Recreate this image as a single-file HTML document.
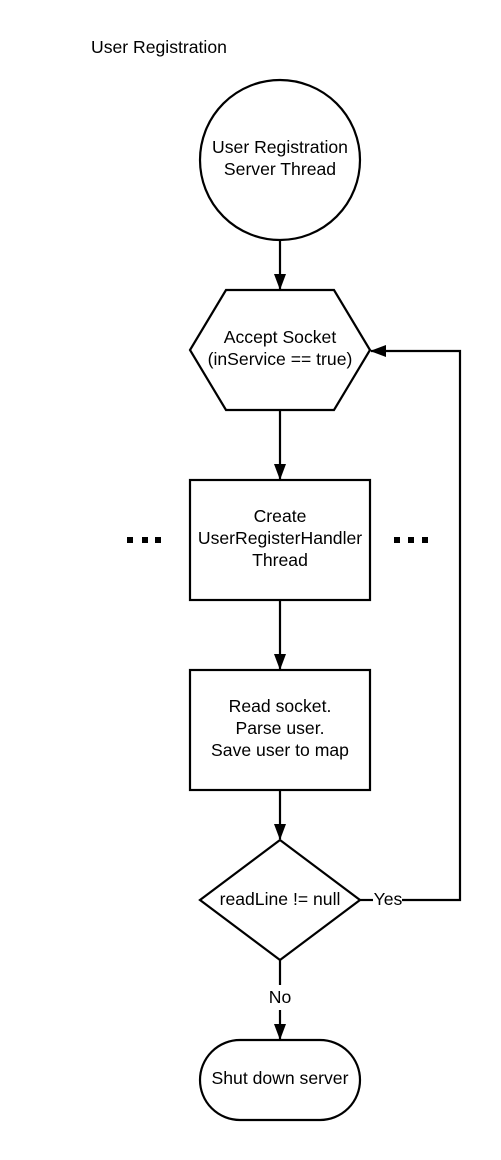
<!DOCTYPE html>
<html><head><meta charset="utf-8"><style>
html,body{margin:0;padding:0;background:#fff;}
svg{display:block;}
text{font-family:"Liberation Sans",Arial,sans-serif;font-size:17.6px;fill:#000;}
</style></head><body>
<svg width="501" height="1160" viewBox="0 0 501 1160" xmlns="http://www.w3.org/2000/svg">
<defs>
<marker id="a" markerWidth="16" markerHeight="14" refX="15" refY="7" orient="auto" markerUnits="userSpaceOnUse">
<path d="M0,1 L16,7 L0,13 Z" fill="#000"/>
</marker>
</defs>
<text x="91" y="53">User Registration</text>
<g fill="#fff" stroke="#000" stroke-width="2.2">
<circle cx="280" cy="160" r="80"/>
<polygon points="226,290 334,290 370,350 334,410 226,410 190,350"/>
<rect x="190" y="480" width="180" height="120"/>
<rect x="190" y="670" width="180" height="120"/>
<polygon points="280,840 360,900 280,960 200,900"/>
<rect x="200" y="1040" width="160" height="80" rx="40" ry="40"/>
</g>
<g stroke="#000" stroke-width="2.2" fill="none">
<line x1="280" y1="240" x2="280" y2="289" marker-end="url(#a)"/>
<line x1="280" y1="410" x2="280" y2="479" marker-end="url(#a)"/>
<line x1="280" y1="600" x2="280" y2="669" marker-end="url(#a)"/>
<line x1="280" y1="790" x2="280" y2="839" marker-end="url(#a)"/>
<line x1="280" y1="960" x2="280" y2="985"/>
<line x1="280" y1="1010" x2="280" y2="1039" marker-end="url(#a)"/>
<line x1="360" y1="900" x2="373" y2="900"/>
<polyline points="402,900 460,900 460,351 371,351" marker-end="url(#a)"/>
</g>
<g fill="#000">
<rect x="127" y="537" width="6" height="6"/><rect x="142" y="537" width="6" height="6"/><rect x="155" y="537" width="6" height="6"/>
<rect x="394" y="537" width="6" height="6"/><rect x="408" y="537" width="6" height="6"/><rect x="422" y="537" width="6" height="6"/>
</g>
<g text-anchor="middle">
<text x="280" y="153">User Registration</text>
<text x="280" y="175">Server Thread</text>
<text x="280" y="343">Accept Socket</text>
<text x="280" y="365">(inService == true)</text>
<text x="280" y="522">Create</text>
<text x="280" y="544">UserRegisterHandler</text>
<text x="280" y="566">Thread</text>
<text x="280" y="712">Read socket.</text>
<text x="280" y="734">Parse user.</text>
<text x="280" y="756">Save user to map</text>
<text x="280" y="905">readLine != null</text>
<text x="388" y="905">Yes</text>
<text x="280" y="1003">No</text>
<text x="280" y="1084">Shut down server</text>
</g>
</svg>
</body></html>
